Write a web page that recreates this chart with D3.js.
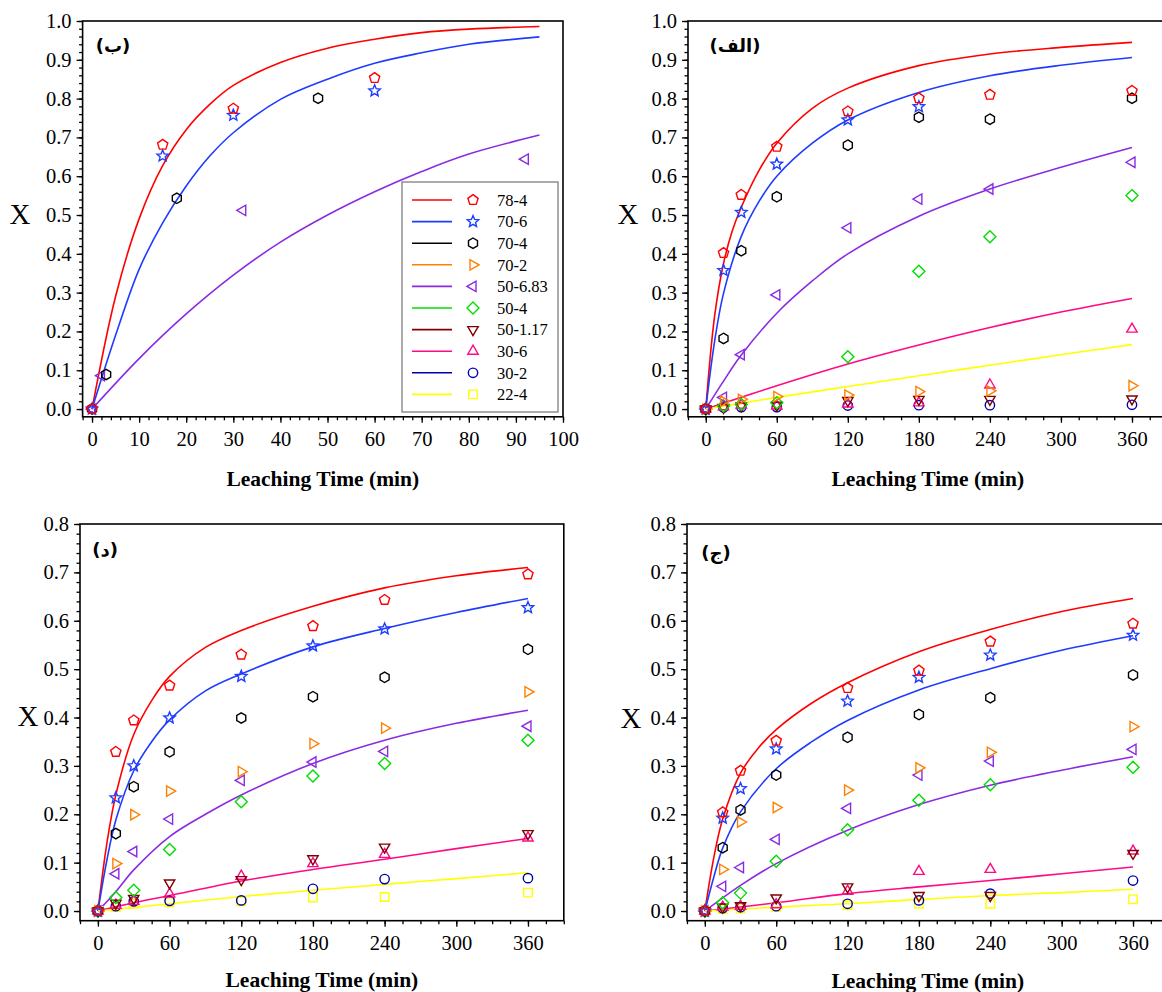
<!DOCTYPE html>
<html>
<head>
<meta charset="utf-8">
<script src="https://cdn.jsdelivr.net/npm/d3@7"></script>
<style>
  body { margin: 0; background: #fff; }
  svg { display: block; }
</style>
</head>
<body>
<svg id="chart"></svg>
<script>
// series (legend order)
const seriesNames = ["78-4", "70-6", "70-4", "70-2", "50-6.83", "50-4", "50-1.17", "30-6", "30-2", "22-4"];
const seriesColors = ["#ff0000", "#1e3cff", "#000000", "#ff8000", "#8a2be2", "#00dd00", "#800000", "#ff0a84", "#0000aa", "#ffff00"];
const seriesShapes = ["pentagon", "star", "hexagon", "right", "left", "diamond", "down", "up", "circle", "square"];

// tick labels
const xTicksShort = [0, 10, 20, 30, 40, 50, 60, 70, 80, 90, 100];
const xTicksLong = [0, 60, 120, 180, 240, 300, 360];
const yTicksTop = [0, 0.1, 0.2, 0.3, 0.4, 0.5, 0.6, 0.7, 0.8, 0.9, 1.0];
const yTicksBottom = [0, 0.1, 0.2, 0.3, 0.4, 0.5, 0.6, 0.7, 0.8];

// panel (ب) measured points, one array per series
const pointsB = [
  [[0, 0], [15, 0.681], [30, 0.774], [60, 0.853]],
  [[0, 0], [15, 0.652], [30, 0.757], [60, 0.82]],
  [[0, 0], [3, 0.089], [18, 0.543], [48, 0.801]],
  [],
  [[0, 0], [2, 0.086], [32, 0.512], [92, 0.644]],
  [], [], [], [], []
];
const fitsB = [
  [[0, 0], [5, 0.29], [10, 0.49], [15, 0.627], [20, 0.72], [25, 0.785], [30, 0.834], [40, 0.893], [50, 0.93], [60, 0.953], [70, 0.97], [80, 0.979], [95, 0.986]],
  [[0, 0], [5, 0.19], [10, 0.36], [15, 0.48], [20, 0.575], [25, 0.652], [30, 0.712], [40, 0.798], [50, 0.85], [60, 0.891], [70, 0.918], [80, 0.94], [95, 0.959]],
  [], [],
  [[0, 0], [10, 0.13], [20, 0.245], [30, 0.345], [40, 0.43], [50, 0.5], [60, 0.56], [70, 0.612], [80, 0.657], [95, 0.706]],
  [], [], [], [], []
];

// panel (الف)
const pointsAlef = [
  [[0, 0], [15, 0.402], [30, 0.552], [60, 0.676], [120, 0.767], [180, 0.801], [240, 0.81], [360, 0.82]],
  [[0, 0], [15, 0.357], [30, 0.507], [60, 0.631], [120, 0.745], [180, 0.779]],
  [[0, 0], [15, 0.182], [30, 0.408], [60, 0.547], [120, 0.68], [180, 0.752], [240, 0.747], [360, 0.801]],
  [[0, 0], [15, 0.02], [30, 0.025], [60, 0.032], [120, 0.036], [180, 0.045], [240, 0.047], [360, 0.06]],
  [[0, 0], [15, 0.03], [30, 0.14], [60, 0.294], [120, 0.467], [180, 0.541], [240, 0.567], [360, 0.636]],
  [[0, 0], [15, 0.008], [30, 0.012], [60, 0.016], [120, 0.135], [180, 0.355], [240, 0.444], [360, 0.55]],
  [[0, 0], [15, 0.004], [30, 0.008], [60, 0.01], [120, 0.022], [180, 0.025], [240, 0.025], [360, 0.026]],
  [[0, 0], [15, 0.006], [30, 0.01], [60, 0.008], [120, 0.013], [180, 0.016], [240, 0.062], [360, 0.206]],
  [[0, 0], [15, 0.004], [30, 0.005], [60, 0.005], [120, 0.009], [180, 0.01], [240, 0.01], [360, 0.011]],
  []
];
const fitsAlef = [
  [[0, 0], [7.5, 0.24], [15, 0.375], [22.5, 0.46], [30, 0.52], [45, 0.615], [60, 0.685], [90, 0.775], [120, 0.827], [180, 0.885], [240, 0.915], [300, 0.932], [360, 0.945]],
  [[0, 0], [7.5, 0.175], [15, 0.298], [30, 0.445], [45, 0.535], [60, 0.6], [90, 0.685], [120, 0.745], [180, 0.816], [240, 0.859], [300, 0.886], [360, 0.906]],
  [], [],
  [[0, 0], [15, 0.072], [30, 0.139], [60, 0.247], [90, 0.33], [120, 0.4], [180, 0.497], [240, 0.567], [300, 0.623], [360, 0.674]],
  [], [],
  [[0, 0], [60, 0.06], [120, 0.116], [180, 0.165], [240, 0.21], [300, 0.25], [360, 0.285]],
  [],
  [[0, 0], [60, 0.03], [120, 0.058], [180, 0.086], [240, 0.113], [300, 0.14], [360, 0.166]]
];

// panel (د)
const pointsDal = [
  [[0, 0], [15, 0.329], [30, 0.394], [60, 0.466], [120, 0.53], [180, 0.589], [240, 0.643], [360, 0.696]],
  [[0, 0], [15, 0.234], [30, 0.3], [60, 0.399], [120, 0.485], [180, 0.548], [240, 0.583], [360, 0.627]],
  [[0, 0], [15, 0.16], [30, 0.257], [60, 0.329], [120, 0.399], [180, 0.443], [240, 0.483], [360, 0.541]],
  [[0, 0], [15, 0.098], [30, 0.199], [60, 0.248], [120, 0.288], [180, 0.346], [240, 0.378], [360, 0.453]],
  [[0, 0], [15, 0.077], [30, 0.123], [60, 0.19], [120, 0.27], [180, 0.308], [240, 0.33], [360, 0.382]],
  [[0, 0], [15, 0.028], [30, 0.043], [60, 0.127], [120, 0.226], [180, 0.279], [240, 0.305], [360, 0.353]],
  [[0, 0], [15, 0.016], [30, 0.026], [60, 0.058], [120, 0.065], [180, 0.108], [240, 0.132], [360, 0.16]],
  [[0, 0], [15, 0.012], [30, 0.02], [60, 0.035], [120, 0.072], [180, 0.098], [240, 0.117], [360, 0.151]],
  [[0, 0], [15, 0.01], [30, 0.02], [60, 0.021], [120, 0.022], [180, 0.046], [240, 0.066], [360, 0.068]],
  [[0, 0], [15, 0.008], [30, 0.015], [60, 0.018], [120, 0.02], [180, 0.028], [240, 0.029], [360, 0.038]]
];
const fitsDal = [
  [[0, 0], [7.5, 0.14], [15, 0.24], [30, 0.365], [45, 0.435], [60, 0.485], [90, 0.545], [120, 0.58], [180, 0.63], [240, 0.668], [300, 0.693], [360, 0.71]],
  [[0, 0], [7.5, 0.105], [15, 0.188], [30, 0.29], [45, 0.35], [60, 0.395], [90, 0.455], [120, 0.49], [180, 0.546], [240, 0.584], [300, 0.617], [360, 0.646]],
  [], [],
  [[0, 0], [15, 0.04], [30, 0.085], [60, 0.154], [90, 0.2], [120, 0.24], [180, 0.305], [240, 0.353], [300, 0.388], [360, 0.415]],
  [], [],
  [[0, 0], [30, 0.017], [60, 0.032], [120, 0.062], [180, 0.086], [240, 0.107], [300, 0.129], [360, 0.15]],
  [],
  [[0, 0], [60, 0.015], [120, 0.03], [180, 0.043], [240, 0.055], [300, 0.067], [360, 0.079]]
];

// panel (ج)
const pointsJim = [
  [[0, 0], [15, 0.204], [30, 0.29], [60, 0.352], [120, 0.461], [180, 0.497], [240, 0.557], [360, 0.594]],
  [[0, 0], [15, 0.192], [30, 0.253], [60, 0.335], [120, 0.434], [180, 0.483], [240, 0.529], [360, 0.57]],
  [[0, 0], [15, 0.131], [30, 0.209], [60, 0.281], [120, 0.359], [180, 0.406], [240, 0.441], [360, 0.488]],
  [[0, 0], [15, 0.086], [30, 0.184], [60, 0.214], [120, 0.25], [180, 0.296], [240, 0.328], [360, 0.381]],
  [[0, 0], [15, 0.051], [30, 0.09], [60, 0.148], [120, 0.212], [180, 0.281], [240, 0.31], [360, 0.334]],
  [[0, 0], [15, 0.017], [30, 0.037], [60, 0.103], [120, 0.168], [180, 0.229], [240, 0.261], [360, 0.297]],
  [[0, 0], [15, 0.008], [30, 0.011], [60, 0.027], [120, 0.05], [180, 0.032], [240, 0.032], [360, 0.119]],
  [[0, 0], [15, 0.008], [30, 0.01], [60, 0.013], [120, 0.041], [180, 0.082], [240, 0.086], [360, 0.124]],
  [[0, 0], [15, 0.006], [30, 0.008], [60, 0.01], [120, 0.015], [180, 0.022], [240, 0.036], [360, 0.063]],
  [[0, 0], [15, 0.004], [30, 0.005], [60, 0.008], [120, 0.012], [180, 0.015], [240, 0.015], [360, 0.024]]
];
const fitsJim = [
  [[0, 0], [7.5, 0.11], [15, 0.19], [30, 0.285], [45, 0.337], [60, 0.375], [90, 0.43], [120, 0.472], [180, 0.536], [240, 0.582], [300, 0.619], [360, 0.646]],
  [[0, 0], [7.5, 0.07], [15, 0.13], [30, 0.205], [60, 0.294], [90, 0.35], [120, 0.394], [180, 0.457], [240, 0.501], [300, 0.539], [360, 0.569]],
  [], [],
  [[0, 0], [30, 0.053], [60, 0.098], [120, 0.167], [180, 0.22], [240, 0.26], [300, 0.291], [360, 0.319]],
  [], [],
  [[0, 0], [60, 0.017], [120, 0.036], [180, 0.05], [240, 0.063], [300, 0.077], [360, 0.091]],
  [],
  [[0, 0], [60, 0.008], [120, 0.015], [180, 0.024], [240, 0.032], [300, 0.038], [360, 0.045]]
];

const width = 1162, height = 992;
const serif = "'Liberation Serif', 'Times New Roman', serif";

const svg = d3.select("#chart").attr("width", width).attr("height", height);
svg.append("rect").attr("width", width).attr("height", height).attr("fill", "#fff");

// marker shapes as d3 symbol types, size = r*r
function polygonType(n, startDeg, innerRatio) {
  return {
    draw(ctx, size) {
      const r = Math.sqrt(size);
      const k = innerRatio ? 2 * n : n;
      for (let i = 0; i < k; i++) {
        const a = (startDeg * Math.PI) / 180 + (i * 2 * Math.PI) / k;
        const rr = innerRatio && i % 2 ? r * innerRatio : r;
        const px = rr * Math.cos(a), py = rr * Math.sin(a);
        if (i === 0) ctx.moveTo(px, py);
        else ctx.lineTo(px, py);
      }
      ctx.closePath();
    }
  };
}
const circleType = {
  draw(ctx, size) {
    const r = Math.sqrt(size) * 0.85;
    ctx.moveTo(r, 0);
    ctx.arc(0, 0, r, 0, 2 * Math.PI);
  }
};
const shapeTypes = {
  pentagon: [polygonType(5, -90), 5.4],
  star: [polygonType(5, -90, 0.45), 6],
  hexagon: [polygonType(6, -90), 5.2],
  right: [polygonType(3, 0), 6],
  left: [polygonType(3, 180), 6],
  up: [polygonType(3, -90), 6],
  down: [polygonType(3, 90), 6],
  diamond: [polygonType(4, -90), 6],
  square: [polygonType(4, -45), 6],
  circle: [circleType, 5.5]
};
const symbolPath = (shape) => {
  const [type, r] = shapeTypes[shape];
  return d3.symbol().type(type).size(r * r)();
};

function drawPanel(p) {
  const x = d3.scaleLinear().domain(p.xDomain).range([p.left, p.right]);
  const y = d3.scaleLinear().domain(p.yDomain).range([p.bottom, p.top]);
  const g = svg.append("g");

  // minor ticks
  const xMinor = d3.range(p.xDomain[0], p.xDomain[1] + 0.001, p.xMinorStep);
  const yMinor = d3.range(0, p.yMax + 0.001, 0.02);
  g.append("g")
    .attr("transform", `translate(0,${p.bottom})`)
    .call(d3.axisBottom(x).tickValues(xMinor).tickSize(3.5).tickFormat(""))
    .call((a) => a.select(".domain").remove());
  g.append("g")
    .attr("transform", `translate(${p.left},0)`)
    .call(d3.axisLeft(y).tickValues(yMinor).tickSize(3.5).tickFormat(""))
    .call((a) => a.select(".domain").remove());

  // major ticks + labels
  const xAx = g.append("g")
    .attr("transform", `translate(0,${p.bottom})`)
    .call(d3.axisBottom(x).tickValues(p.xTicks).tickSize(6).tickPadding(9).tickFormat(d3.format("d")));
  const yAx = g.append("g")
    .attr("transform", `translate(${p.left},0)`)
    .call(d3.axisLeft(y).tickValues(p.yTicks).tickSize(6).tickPadding(5).tickFormat(d3.format(".1f")));
  [xAx, yAx].forEach((a) => {
    a.select(".domain").remove();
    a.attr("font-family", serif).attr("font-size", 20.5);
    a.selectAll("text").attr("fill", "#000");
  });
  g.selectAll(".tick line").attr("stroke", "#000").attr("stroke-width", 1.3);

  // frame
  g.append("rect")
    .attr("x", p.left)
    .attr("y", p.top)
    .attr("width", p.right - p.left)
    .attr("height", p.bottom - p.top)
    .attr("fill", "none")
    .attr("stroke", "#000")
    .attr("stroke-width", 1.6);

  // fitted curves
  const line = d3.line()
    .x((d) => x(d[0]))
    .y((d) => y(d[1]))
    .curve(d3.curveCatmullRom.alpha(0.5));
  p.fits.forEach((f, i) => {
    if (!f.length) return;
    g.append("path")
      .attr("d", line(f))
      .attr("fill", "none")
      .attr("stroke", seriesColors[i])
      .attr("stroke-width", 1.6);
  });

  // markers, last series first so 78-4 sits on top
  d3.range(seriesNames.length - 1, -1, -1).forEach((i) => {
    g.append("g")
      .selectAll("path")
      .data(p.points[i])
      .enter()
      .append("path")
      .attr("d", symbolPath(seriesShapes[i]))
      .attr("transform", (d) => `translate(${x(d[0])},${y(d[1])})`)
      .attr("fill", "none")
      .attr("stroke", seriesColors[i])
      .attr("stroke-width", 1.4);
  });

  // titles
  g.append("text")
    .attr("x", (p.left + p.right) / 2)
    .attr("y", p.titleY)
    .attr("text-anchor", "middle")
    .attr("font-family", serif)
    .attr("font-weight", "bold")
    .attr("font-size", 21.5)
    .text("Leaching Time (min)");
  g.append("text")
    .attr("x", p.xLabel[0])
    .attr("y", p.xLabel[1])
    .attr("text-anchor", "middle")
    .attr("dy", "0.35em")
    .attr("font-family", serif)
    .attr("font-size", 29)
    .text("X");
  g.append("text")
    .attr("x", p.tag[0])
    .attr("y", p.tag[1])
    .attr("text-anchor", "middle")
    .attr("dy", "0.35em")
    .attr("font-family", "'DejaVu Sans', 'Noto Sans', sans-serif")
    .attr("font-weight", "bold")
    .attr("font-size", 18)
    .text(p.label);

  return { x, y, g };
}

drawPanel({
  label: "(ب)", points: pointsB, fits: fitsB,
  xDomain: [-2, 100], xTicks: xTicksShort, xMinorStep: 2,
  yDomain: [-0.02, 1.0], yTicks: yTicksTop, yMax: 1.0,
  left: 82.6, right: 563, top: 21, bottom: 416.8,
  titleY: 486, xLabel: [20, 214], tag: [113, 46]
});
drawPanel({
  label: "(الف)", points: pointsAlef, fits: fitsAlef,
  xDomain: [-15, 390], xTicks: xTicksLong, xMinorStep: 15,
  yDomain: [-0.02, 1.0], yTicks: yTicksTop, yMax: 1.0,
  left: 688, right: 1167.5, top: 21, bottom: 416.8,
  titleY: 486, xLabel: [628, 214], tag: [735, 46]
});
drawPanel({
  label: "(د)", points: pointsDal, fits: fitsDal,
  xDomain: [-15, 390], xTicks: xTicksLong, xMinorStep: 15,
  yDomain: [-0.02, 0.8], yTicks: yTicksBottom, yMax: 0.8,
  left: 80, right: 563.8, top: 524, bottom: 920.7,
  titleY: 987, xLabel: [28, 716], tag: [105, 550]
});
drawPanel({
  label: "(ج)", points: pointsJim, fits: fitsJim,
  xDomain: [-15, 390], xTicks: xTicksLong, xMinorStep: 15,
  yDomain: [-0.02, 0.8], yTicks: yTicksBottom, yMax: 0.8,
  left: 687, right: 1168.7, top: 524, bottom: 920.7,
  titleY: 988, xLabel: [631, 718], tag: [716, 553]
});

// legend in panel (ب)
const legend = svg.append("g").attr("transform", "translate(402,182)");
legend.append("rect")
  .attr("width", 156)
  .attr("height", 230)
  .attr("fill", "#fff")
  .attr("stroke", "#888")
  .attr("stroke-width", 1.4);
const rows = legend.selectAll("g.row")
  .data(seriesNames)
  .enter()
  .append("g")
  .attr("class", "row")
  .attr("transform", (d, i) => `translate(0,${18 + i * 21.6})`);
rows.append("line")
  .attr("x1", 10).attr("x2", 50)
  .attr("stroke", (d, i) => seriesColors[i])
  .attr("stroke-width", 1.6);
rows.append("path")
  .attr("d", (d, i) => symbolPath(seriesShapes[i]))
  .attr("transform", "translate(71,0)")
  .attr("fill", "none")
  .attr("stroke", (d, i) => seriesColors[i])
  .attr("stroke-width", 1.4);
rows.append("text")
  .attr("x", 95)
  .attr("dy", "0.35em")
  .attr("font-family", serif)
  .attr("font-size", 16.5)
  .text((d) => d);
</script>
</body>
</html>
